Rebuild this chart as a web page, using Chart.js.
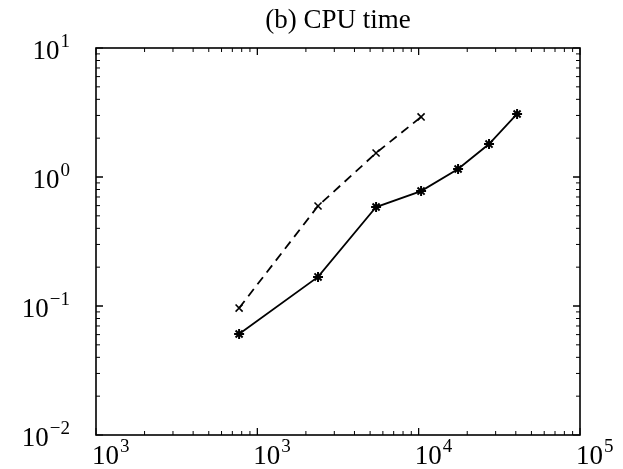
<!DOCTYPE html>
<html>
<head>
<meta charset="utf-8">
<script src="https://cdn.jsdelivr.net/npm/chart.js@4.4.1/dist/chart.umd.min.js"></script>
<style>
  html, body { margin: 0; padding: 0; background: #fff; }
  #wrap { width: 623px; height: 469px; position: relative; }
</style>
</head>
<body>
<div id="wrap"><canvas id="c" width="623" height="469"></canvas></div>
<script>
// ---- data ----
const titleText = '(b) CPU time';
const xTickValues = [100, 1000, 10000, 100000];
const xTickLabels = ['10^3', '10^3', '10^4', '10^5'];
const yTickValues = [0.01, 0.1, 1, 10];
const yTickLabels = ['10^-2', '10^-1', '10^0', '10^1'];

const solidX = [771, 2378, 5445, 10350, 17550, 27300, 40740];
const solidY = [0.0607, 0.168, 0.585, 0.778, 1.153, 1.80, 3.08];
const dashedX = [771, 2378, 5445, 10350];
const dashedY = [0.0964, 0.596, 1.535, 2.92];

const FONT = '"Liberation Serif", "DejaVu Serif", serif';

function toPoints(xs, ys) { return xs.map((x, i) => ({ x: x, y: ys[i] })); }

function drawPow(ctx, label, x, baseline, align) {
  const parts = label.split('^');
  const base = parts[0];
  const exp = (parts[1] || '').replace('-', '\u2212');
  ctx.font = '27px ' + FONT;
  const wb = ctx.measureText(base).width;
  ctx.font = '19px ' + FONT;
  const we = ctx.measureText(exp).width;
  let left = x;
  if (align === 'right') left = x - wb - we;
  ctx.textAlign = 'left';
  ctx.textBaseline = 'alphabetic';
  ctx.font = '27px ' + FONT;
  ctx.fillText(base, left, baseline);
  ctx.font = '19px ' + FONT;
  ctx.fillText(exp, left + wb + 1, baseline - 12);
}

const framePlugin = {
  id: 'frame',
  afterDraw(chart) {
    const ctx = chart.ctx;
    const a = chart.chartArea;
    const xs = chart.scales.x, ys = chart.scales.y;
    ctx.save();
    ctx.strokeStyle = '#000';
    ctx.fillStyle = '#000';
    ctx.lineWidth = 1.6;
    ctx.strokeRect(a.left, a.top, a.right - a.left, a.bottom - a.top);

    // inward log ticks on all four sides
    ctx.lineWidth = 1;
    ctx.beginPath();
    for (let d = xs.min; d < xs.max; d *= 10) {
      for (let k = 1; k <= 10; k++) {
        const v = d * k;
        if (v > xs.max * 1.0001) continue;
        const px = xs.getPixelForValue(v);
        const len = (k === 1 || k === 10) ? 7 : 4;
        ctx.moveTo(px, a.bottom); ctx.lineTo(px, a.bottom - len);
        ctx.moveTo(px, a.top); ctx.lineTo(px, a.top + len);
      }
    }
    for (let d = ys.min; d < ys.max; d *= 10) {
      for (let k = 1; k <= 10; k++) {
        const v = d * k;
        if (v > ys.max * 1.0001) continue;
        const py = ys.getPixelForValue(v);
        const len = (k === 1 || k === 10) ? 7 : 4;
        ctx.moveTo(a.left, py); ctx.lineTo(a.left + len, py);
        ctx.moveTo(a.right, py); ctx.lineTo(a.right - len, py);
      }
    }
    ctx.stroke();

    // tick labels
    xTickValues.forEach((v, i) => {
      drawPow(ctx, xTickLabels[i], xs.getPixelForValue(v) - 4, a.bottom + 29, 'left');
    });
    yTickValues.forEach((v, i) => {
      drawPow(ctx, yTickLabels[i], a.left - 27, ys.getPixelForValue(v) + 11, 'right');
    });

    // title
    ctx.font = '27px ' + FONT;
    ctx.textAlign = 'center';
    ctx.textBaseline = 'alphabetic';
    ctx.fillText(titleText, (a.left + a.right) / 2, 28);
    ctx.restore();
  }
};

new Chart(document.getElementById('c'), {
  type: 'scatter',
  data: {
    datasets: [
      {
        label: 'solid',
        data: toPoints(solidX, solidY),
        showLine: true,
        borderColor: '#000',
        backgroundColor: '#000',
        borderWidth: 1.8,
        pointStyle: 'star',
        pointRadius: 5,
        pointBorderWidth: 2,
        pointBorderColor: '#000'
      },
      {
        label: 'dashed',
        data: toPoints(dashedX, dashedY),
        showLine: true,
        borderColor: '#000',
        backgroundColor: '#000',
        borderWidth: 1.8,
        borderDash: [9, 6],
        pointStyle: 'crossRot',
        pointRadius: 5,
        pointBorderWidth: 1.6,
        pointBorderColor: '#000'
      }
    ]
  },
  options: {
    responsive: false,
    animation: false,
    layout: { padding: { left: 96, right: 43, top: 48, bottom: 34 } },
    plugins: { legend: { display: false }, title: { display: false }, tooltip: { enabled: false } },
    scales: {
      x: { type: 'logarithmic', min: 100, max: 100000, display: false },
      y: { type: 'logarithmic', min: 0.01, max: 10, display: false }
    }
  },
  plugins: [framePlugin]
});
</script>
</body>
</html>
